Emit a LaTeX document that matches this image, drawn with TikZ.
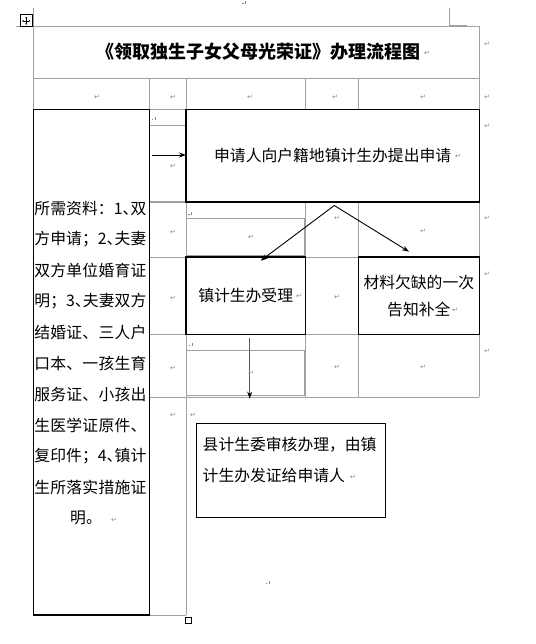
\documentclass[tikz,border=0pt]{standalone}
\usepackage{fontspec}
\usetikzlibrary{arrows.meta}
\newfontfamily\cjk{Noto Sans CJK SC}
\newfontfamily\dvs{DejaVu Sans}
\definecolor{gridc}{RGB}{160,160,160}
\definecolor{markc}{RGB}{135,135,135}
\newcommand\hp[1]{\makebox[0.5em][l]{#1}}
\def\Lend{LEND}
\def\Lsp#1{\makebox[112pt][s]{\LspA#1|\Lend|}}
\def\LspA#1|{#1\LspB}
\def\LspB#1|{\ifx\Lend#1\else\hfil#1\expandafter\LspB\fi}
\tikzset{
  grid/.style={draw=gridc, line width=0.8pt},
  box/.style={draw=black, line width=1.1pt, inner sep=0pt, outer sep=0pt},
  body/.style={font=\cjk\fontsize{15.8}{19}\selectfont, inner sep=0pt},
  ttl/.style={font=\cjk\bfseries\fontsize{18}{20}\selectfont, inner sep=0pt},
  retmark/.style={font=\dvs\fontsize{7}{7}\selectfont, text=markc, inner sep=0pt},
  arr/.style={draw=black, line width=0.9pt, -{Stealth[length=7pt,width=5pt]}},
  arrd/.style={draw=black!65, line width=1.5pt, -{Stealth[length=7pt,width=5pt,color=black]}},
}
\newcommand\retm[3]{\node[retmark] (#1) at (#2,#3) {↵};}
\newcommand\anc[2]{\fill[markc] (#1,#2) rectangle ++(1.2,-1.2); \fill[markc] (#1+3,#2) rectangle ++(1,-3.5);}
\begin{document}
\begin{tikzpicture}[x=1pt,y=-1pt]
\useasboundingbox (0,0) rectangle (535,644);
% ---- grid lines (table)
\draw[grid] (33.3,26.3) -- (479.3,26.3);
\draw[grid] (33.3,78.7) -- (479.3,78.7);
\draw[grid] (33.3,109.3) -- (479.3,109.3);
\draw[grid] (149.3,125.3) -- (186,125.3);
\draw[grid, line width=2pt] (149.3,202) -- (186,202);
\draw[grid] (186,218.3) rectangle (304.7,255.3);
\draw[grid] (149.3,257) -- (479.3,257);
\draw[grid] (149.3,334.3) -- (479.3,334.3);
\draw[grid] (186,350) rectangle (304.7,395.7);
\draw[grid] (149.3,397.3) -- (479.3,397.3);
\draw[grid] (149.3,615) -- (186,615);
\draw[grid] (33.3,8.3) -- (33.3,109.3);
\draw[grid] (149.3,78.7) -- (149.3,615);
\draw[grid] (186,78.7) -- (186,615);
\draw[grid] (305.3,78.7) -- (305.3,109.3);
\draw[grid] (305.3,202) -- (305.3,397.3);
\draw[grid] (358.3,78.7) -- (358.3,109.3);
\draw[grid] (358.3,202) -- (358.3,397.3);
\draw[grid] (479.3,26.3) -- (479.3,397.3);
\draw[grid] (16,26.3) -- (20,26.3);
\draw[grid] (449.3,8.3) -- (449.3,25.3) -- (466.7,25.3);
% ---- table handle and end square
\node[draw=black, line width=0.8pt, minimum size=12pt, inner sep=0pt, fill=white] (handle) at (26.2,20.8) {};
\draw[line width=0.5pt, {Stealth[length=1.5pt,width=2pt]}-{Stealth[length=1.5pt,width=2pt]}] (22.2,20.8) -- (30.2,20.8);
\draw[line width=0.5pt, {Stealth[length=1.5pt,width=2pt]}-{Stealth[length=1.5pt,width=2pt]}] (26.2,16.8) -- (26.2,24.8);
\node[draw=black, line width=0.8pt, minimum size=6.3pt, inner sep=0pt] (sq) at (188.5,620.3) {};
% ---- title
\node[ttl] (title) at (258,52) {《领取独生子女父母光荣证》办理流程图};
% ---- black boxes
\node[box, minimum width=116pt, minimum height=505.7pt] (req) at (91.3,362.15) {};
\node[box, body, minimum width=293.3pt, minimum height=92.7pt] (main) at (332.65,155.65) {申请人向户籍地镇计生办提出申请};
\node[box, body, minimum width=119.3pt, minimum height=77.3pt] (accept) at (245.65,295.65) {镇计生办受理};
\node[box, body, minimum width=121pt, minimum height=77.3pt, align=center, font=\cjk\fontsize{15.8}{27.3}\selectfont] (lack) at (418.8,295.65) {材料欠缺的一次\\告知补全};
\node[box, minimum width=189.4pt, minimum height=94pt] (final) at (291,470.3) {};
\node[body, anchor=west] (f1) at (202.5,445) {县计生委审核办理，由镇};
\node[body, anchor=west] (f2) at (202.5,475.7) {计生办发证给申请人};
% ---- left column text
\node[body, anchor=west] (l1) at (34.2,208.3) {\Lsp{所|需|资|料|：|1|\hp{、}|双}};
\node[body, anchor=west] (l2) at (34.2,239.3) {\Lsp{方|申|请|；|2|\hp{、}|夫|妻}};
\node[body, anchor=west] (l3) at (34.2,270.3) {\Lsp{双|方|单|位|婚|育|证}};
\node[body, anchor=west] (l4) at (34.2,301.3) {\Lsp{明|；|3|\hp{、}|夫|妻|双|方}};
\node[body, anchor=west] (l5) at (34.2,332.3) {\Lsp{结|婚|证|、|三|人|户}};
\node[body, anchor=west] (l6) at (34.2,363.3) {\Lsp{口|本|、|一|孩|生|育}};
\node[body, anchor=west] (l7) at (34.2,394.3) {\Lsp{服|务|证|、|小|孩|出}};
\node[body, anchor=west] (l8) at (34.2,425.3) {\Lsp{生|医|学|证|原|件|、}};
\node[body, anchor=west] (l9) at (34.2,456.3) {\Lsp{复|印|件|；|4|\hp{、}|镇|计}};
\node[body, anchor=west] (l10) at (34.2,487.3) {\Lsp{生|所|落|实|措|施|证}};
\node[body] (l11) at (86,518.3) {明。};
% ---- arrows
\coordinate (s1) at (151.7,155);
\draw[arr] (s1) -- (main.west |- s1);
\coordinate (split) at (334.3,205.5);
\coordinate (tl) at (260.7,260.7);
\coordinate (tr) at (409,251.7);
\draw[arr] (split) -- (tl);
\draw[arr] (split) -- (tr);
\coordinate (d1) at (249.7,338);
\coordinate (d2) at (249.7,398.7);
\draw[arrd] (d1) -- (d2);
% ---- paragraph marks
\retm{r1}{427}{53}
\retm{r2}{487}{44}
\retm{r3}{97}{97}
\retm{r4}{173}{97}
\retm{r5}{250}{97}
\retm{r6}{335}{97}
\retm{r7}{423}{97}
\retm{r8}{487}{97}
\retm{r9}{487}{126}
\retm{r10}{458}{156}
\retm{r11}{173}{166}
\retm{r12}{173}{232}
\retm{r13}{487}{218}
\retm{r14}{251}{237}
\retm{r15}{337}{218}
\retm{r16}{423}{231}
\retm{r17}{173}{298}
\retm{r18}{299}{296}
\retm{r19}{337}{297}
\retm{r20}{455}{310}
\retm{r21}{487}{274}
\retm{r22}{173}{368}
\retm{r23}{251}{373}
\retm{r24}{337}{367}
\retm{r25}{423}{367}
\retm{r26}{487}{351}
\retm{r27}{173}{415}
\retm{r28}{193}{415}
\retm{r29}{353}{477}
\retm{r30}{114}{520}
% ---- anchor ticks
\anc{151.7}{120.3}
\anc{188.3}{215}
\anc{189}{346}
\anc{265.7}{584.3}
\anc{242.3}{4.3}
\end{tikzpicture}
\end{document}
